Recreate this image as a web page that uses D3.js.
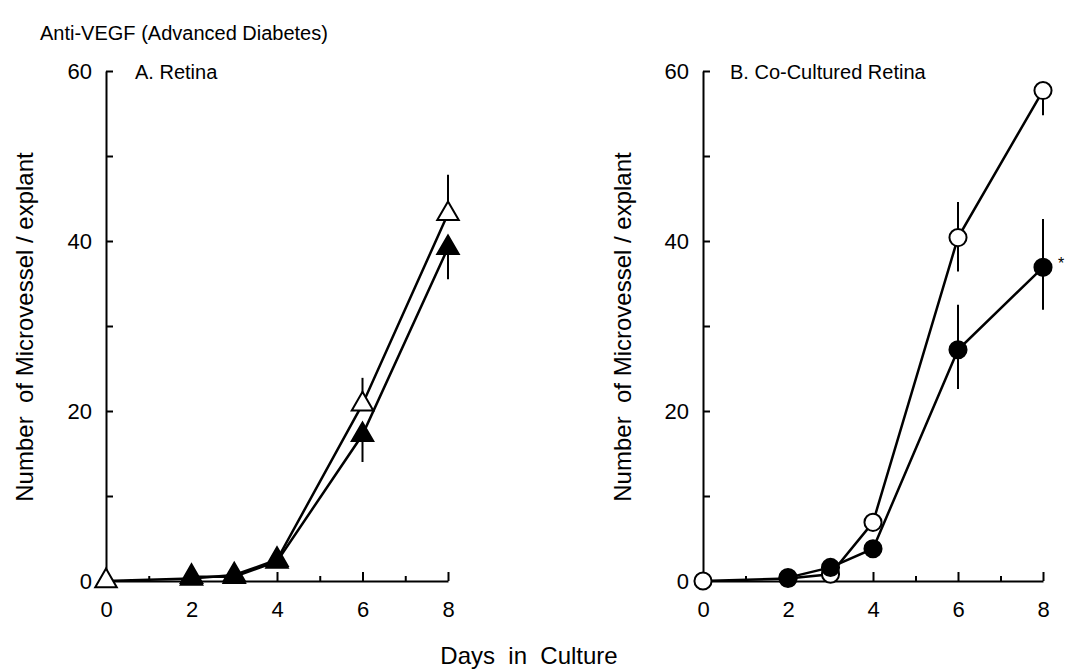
<!DOCTYPE html>
<html><head><meta charset="utf-8">
<script src="https://cdn.jsdelivr.net/npm/d3@7"></script>
<style>
html,body{margin:0;padding:0;background:#fff;}
text{font-family:"Liberation Sans",Arial,Helvetica,sans-serif;fill:#000;}
</style></head>
<body><svg id="c" width="1066" height="671"></svg>
<script>
// ---- data ----
const title = "Anti-VEGF (Advanced Diabetes)";
const xLabel = "Days\u00a0\u00a0in\u00a0\u00a0Culture";
const yLabel = "Number\u00a0\u00a0of Microvessel / explant";
const panelTitles = ["A. Retina", "B. Co-Cultured Retina"];
const yTickValues = [0, 10, 20, 30, 40, 50, 60];
const yTickLabels = [0, 20, 40, 60];
const xTickValues = [0, 1, 2, 3, 4, 5, 6, 7, 8];
const xTickLabels = [0, 2, 4, 6, 8];

// Panel A: triangles
const aOpenDays   = [0, 2, 3, 4, 6, 8];
const aOpenVals   = [0, 0.3, 0.7, 2.5, 20.8, 43.2];
const aOpenErrUp  = [0, 0, 0, 0, 3.1, 4.6];
const aOpenErrDn  = [0, 0, 0, 0, 0, 0];
const aFillDays   = [2, 3, 4, 6, 8];
const aFillVals   = [0.5, 0.5, 2.3, 17.2, 39.2];
const aFillErrUp  = [0, 0, 0, 0, 0];
const aFillErrDn  = [0, 0, 0, 3.2, 3.7];

// Panel B: circles
const bOpenDays   = [0, 2, 3, 4, 6, 8];
const bOpenVals   = [0, 0.3, 0.8, 6.9, 40.4, 57.7];
const bOpenErrUp  = [0, 0, 0, 0, 4.2, 0];
const bOpenErrDn  = [0, 0, 0, 0, 4.0, 2.9];
const bFillDays   = [2, 3, 4, 6, 8];
const bFillVals   = [0.4, 1.6, 3.8, 27.2, 36.9];
const bFillErrUp  = [0, 0, 0, 5.3, 5.7];
const bFillErrDn  = [0, 0, 0, 4.6, 5.0];

// ---- drawing ----
const svg = d3.select("#c");
const FONT = '"Liberation Sans",Arial,Helvetica,sans-serif';

svg.append("text").attr("x", 40).attr("y", 40).style("font-size", "20px").text(title);
svg.append("text").attr("x", 529).attr("y", 664).attr("text-anchor", "middle")
  .style("font-size", "24px").text(xLabel);

function mk(series){
  return series.days.map((d,i)=>({x:d, y:series.vals[i], up:series.up[i], dn:series.dn[i]}));
}

function panel(cfg){
  const x = d3.scaleLinear().domain([0, 8]).range([cfg.x0, cfg.x1]);
  const y = d3.scaleLinear().domain([0, 60]).range([581, 71]);
  const g = svg.append("g");

  const ya = g.append("g").attr("transform", `translate(${cfg.x0},0)`)
    .call(d3.axisLeft(y).tickValues(yTickValues).tickSizeInner(-7).tickSizeOuter(0).tickPadding(14)
      .tickFormat(d => yTickLabels.includes(d) ? d : ""));
  const xa = g.append("g").attr("transform", `translate(0,581)`)
    .call(d3.axisBottom(x).tickValues(xTickValues).tickSizeOuter(0).tickSizeInner(-5).tickFormat(""));
  xa.selectAll(".tick line").attr("y2", d => xTickLabels.includes(d) ? -9 : -5);
  const xl = g.append("g").attr("transform", `translate(0,581)`)
    .call(d3.axisBottom(x).tickValues(xTickLabels).tickSize(0).tickPadding(20));
  xl.select(".domain").remove();
  [ya, xa, xl].forEach(a => {
    a.selectAll("text").style("font-size", "22px").style("font-family", FONT).attr("fill", "#000");
    a.selectAll("line,path").attr("stroke", "#000").attr("stroke-width", 2);
  });

  g.append("text").attr("x", cfg.tx).attr("y", 79).style("font-size", "20px").text(cfg.title);
  g.append("text").attr("transform", `translate(${cfg.lx},327) rotate(-90)`).attr("text-anchor", "middle")
    .style("font-size", "24px").text(yLabel);

  const line = d3.line().x(d => x(d.x)).y(d => y(d.y));
  cfg.series.forEach(s => {
    g.append("path").datum(mk(s)).attr("d", line).attr("fill", "none").attr("stroke", "#000").attr("stroke-width", 2.5);
  });
  cfg.series.forEach(s => {
    const data = mk(s);
    g.selectAll(null).data(data.filter(d => d.up > 0 || d.dn > 0)).enter().append("line")
      .attr("x1", d => x(d.x)).attr("x2", d => x(d.x))
      .attr("y1", d => y(d.y + d.up)).attr("y2", d => y(d.y - d.dn))
      .attr("stroke", "#000").attr("stroke-width", 2);
    const sym = d3.symbol().type(cfg.shape).size(cfg.size);
    g.selectAll(null).data(data).enter().append("path")
      .attr("d", sym).attr("transform", d => `translate(${x(d.x)},${y(d.y)})`)
      .attr("fill", s.filled ? "#000" : "#fff").attr("stroke", "#000").attr("stroke-width", 2);
  });
  if (cfg.star) {
    const s = cfg.series[1];
    const i = s.days.length - 1;
    g.append("text").attr("x", x(s.days[i]) + 15).attr("y", y(s.vals[i]) + 2)
      .style("font-size", "16px").text("*");
  }
}

panel({x0:106, x1:448, tx:135, lx:33, title:panelTitles[0], shape:d3.symbolTriangle, size:200, star:false,
  series:[{days:aOpenDays, vals:aOpenVals, up:aOpenErrUp, dn:aOpenErrDn, filled:false},
          {days:aFillDays, vals:aFillVals, up:aFillErrUp, dn:aFillErrDn, filled:true}]});
panel({x0:703, x1:1043, tx:730, lx:631, title:panelTitles[1], shape:d3.symbolCircle, size:230, star:true,
  series:[{days:bOpenDays, vals:bOpenVals, up:bOpenErrUp, dn:bOpenErrDn, filled:false},
          {days:bFillDays, vals:bFillVals, up:bFillErrUp, dn:bFillErrDn, filled:true}]});
</script></body></html>
